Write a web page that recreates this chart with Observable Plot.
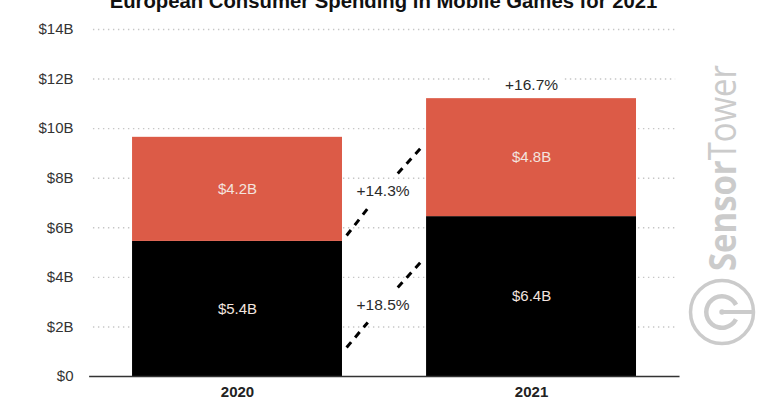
<!DOCTYPE html>
<html>
<head>
<meta charset="utf-8">
<script src="https://cdn.jsdelivr.net/npm/d3@7"></script>
<script src="https://cdn.jsdelivr.net/npm/@observablehq/plot@0.6"></script>
<style>
  html, body { margin: 0; padding: 0; background: #fff; width: 768px; height: 403px; overflow: hidden; }
  #wrap { position: relative; width: 768px; height: 403px; }
  #wrap > svg { position: absolute; left: 0; top: 0; }
</style>
</head>
<body>
<div id="wrap"></div>
<script>
const title = "European Consumer Spending in Mobile Games for 2021";
const years = [2020, 2021];
const black = [5.45, 6.45];
const red = [4.2, 4.76];
const blackLabels = ["$5.4B", "$6.4B"];
const redLabels = ["$4.2B", "$4.8B"];
const yTicks = [0, 2, 4, 6, 8, 10, 12, 14];
const growthLabels = ["+18.5%", "+14.3%"];
const growthX = 2020.495;
const growthY = [2.87, 7.47];
const totalGrowth = "+16.7%";
const barHalf = 0.357;

const rects = years.flatMap((year, i) => [
  {year, y1: 0, y2: black[i], fill: "#000000", label: blackLabels[i]},
  {year, y1: black[i], y2: black[i] + red[i], fill: "#dc5b47", label: redLabels[i]}
]);

// gridlines, broken where the reference leaves room for the +16.7% label
const gridLeft = 2019.51, gridRight = 2021.49;
const grid = yTicks.filter(v => v > 0).flatMap(v => v === 12
  ? [{v, x1: gridLeft, x2: 2020.87}, {v, x1: 2021.115, x2: gridRight}]
  : [{v, x1: gridLeft, x2: gridRight}]);

// connector pieces between the two bars
const connectorX = [[2020.371, 2020.443], [2020.545, 2020.622]];
const connectorLower = [[1.17, 2.18], [3.59, 4.6]];
const connectorUpper = [[5.69, 6.78], [8.19, 9.2]];
const connectors = [connectorLower, connectorUpper].flatMap(c =>
  c.map((ys, i) => ({x1: connectorX[i][0], x2: connectorX[i][1], y1: ys[0], y2: ys[1]})));

const font = "'Liberation Sans', Arial, sans-serif";

const chart = Plot.plot({
  width: 768, height: 403,
  marginTop: 29, marginBottom: 27, marginLeft: 90, marginRight: 92,
  style: {fontFamily: font, background: "#fff", overflow: "hidden"},
  x: {domain: [2019.5, 2021.493], label: null},
  y: {domain: [0, 14], label: null},
  marks: [
    Plot.ruleY(grid, {y: "v", x1: "x1", x2: "x2", stroke: "#c6c6c6", strokeWidth: 1.4, strokeDasharray: "1.4 3.6"}),
    Plot.rectY(rects, {
      x1: d => d.year - barHalf, x2: d => d.year + barHalf,
      y1: "y1", y2: "y2", fill: "fill"
    }),
    Plot.text(rects, {
      x: "year", y: d => (d.y1 + d.y2) / 2, text: "label",
      fill: "#f3e4df", fontSize: 15
    }),
    Plot.link(connectors, {
      x1: "x1", x2: "x2", y1: "y1", y2: "y2",
      stroke: "#000", strokeWidth: 3, strokeDasharray: "7 6.2"
    }),
    Plot.text(growthLabels, {
      x: () => growthX, y: (d, i) => growthY[i], text: d => d,
      fill: "#2a2a2a", fontSize: 15.5
    }),
    Plot.text([totalGrowth], {
      x: () => years[1], y: () => 11.77, text: d => d,
      fill: "#2a2a2a", fontSize: 15.5
    }),
    Plot.axisY({
      ticks: yTicks, tickSize: 0, tickPadding: 17, label: null,
      tickFormat: d => d === 0 ? "$0" : `$${d}B`,
      fontSize: 15, color: "#333"
    }),
    Plot.axisX({
      ticks: years, tickSize: 0, tickPadding: 10, label: null,
      tickFormat: d => String(d),
      fontSize: 15, fontWeight: "bold", color: "#222"
    }),
    Plot.ruleY([0], {x1: 2019.497, x2: 2021.505, stroke: "#333", strokeWidth: 1.5}),
    Plot.text([title], {
      frameAnchor: "top", dx: 0, dy: -22, lineAnchor: "bottom", text: d => d,
      fontSize: 20.3, fontWeight: "bold", fill: "#111"
    })
  ]
});
document.getElementById("wrap").append(chart);

// SensorTower watermark
const ns = "http://www.w3.org/2000/svg";
const wm = d3.select("#wrap").append("svg")
  .attr("xmlns", ns).attr("width", 768).attr("height", 403)
  .style("pointer-events", "none");
const gray = "#cbcbcb";
const t = wm.append("text")
  .attr("transform", "translate(736,271) rotate(-90)")
  .attr("font-family", "'Open Sans', sans-serif").attr("font-size", 38).attr("fill", gray)
  .attr("textLength", 206).attr("lengthAdjust", "spacingAndGlyphs");
t.append("tspan").attr("font-weight", "bold").text("Sensor");
t.append("tspan").attr("font-weight", 400).text("Tower");
const logo = wm.append("g").attr("transform", "translate(722,312)")
  .attr("fill", "none").attr("stroke", gray);
logo.append("circle").attr("r", 31.5).attr("stroke-width", 3.5);
logo.append("path").attr("d", d3.arc()({innerRadius: 13.5, outerRadius: 18, startAngle: 2.05, endAngle: 2 * Math.PI + 1.1}))
  .attr("fill", gray).attr("stroke", "none");
logo.append("line").attr("x1", 0).attr("x2", 31).attr("stroke-width", 4);
logo.append("circle").attr("r", 2.7).attr("fill", gray).attr("stroke", "none");
</script>
</body>
</html>
